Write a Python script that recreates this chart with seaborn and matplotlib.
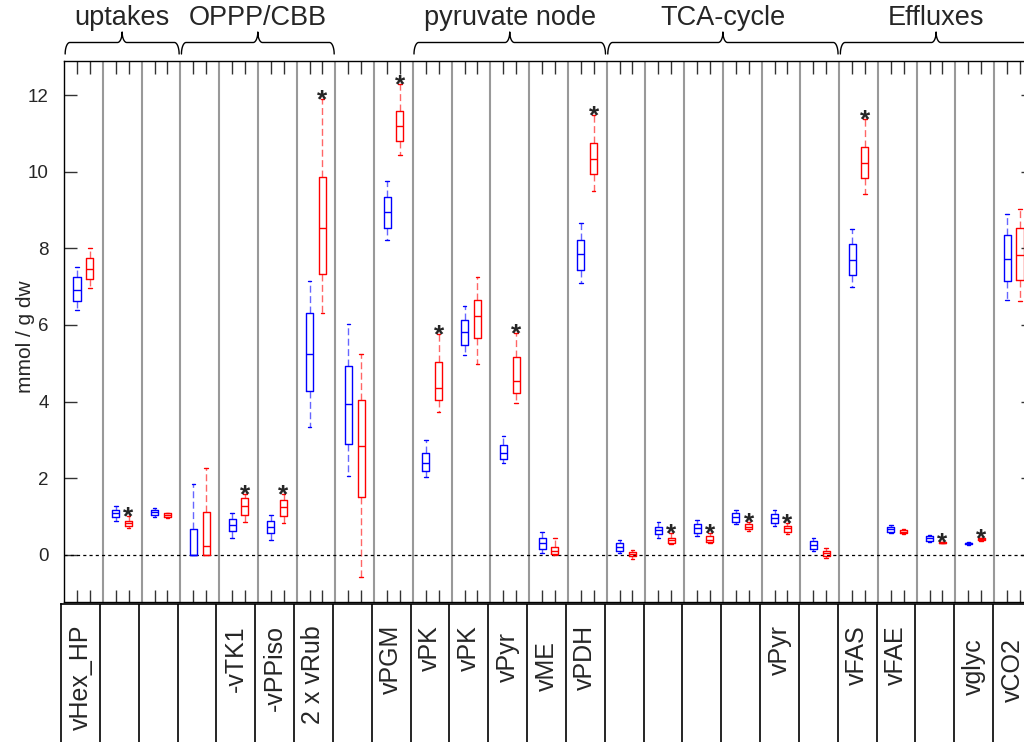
import numpy as np
import pandas as pd
import matplotlib
matplotlib.use('Agg')
import matplotlib.pyplot as plt
import seaborn as sns

sns.set_style('ticks')
plt.rcParams['font.family'] = ['Liberation Sans', 'DejaVu Sans']

# flux labels in the table under the plot (blank cells stay blank)
flux_labels = ['vHex_HP', '', '', '', '-vTK1', '-vPPiso', '2 x vRub', '', 'vPGM',
               'vPK', 'vPK', 'vPyr', 'vME', 'vPDH', '', '', '', '', 'vPyr', '',
               'vFAS', 'vFAE', '', 'vglyc', 'vCO2']

# five-number summaries per flux: lower whisker, q1, median, q3, upper whisker
stats_blue = [
    [6.38, 6.63, 6.91, 7.24, 7.52],
    [0.89, 0.98, 1.08, 1.17, 1.27],
    [1.00, 1.04, 1.11, 1.17, 1.22],
    [0.00, 0.00, 0.00, 0.68, 1.84],
    [0.44, 0.62, 0.79, 0.93, 1.10],
    [0.39, 0.57, 0.74, 0.89, 1.04],
    [3.33, 4.28, 5.25, 6.30, 7.16],
    [2.07, 2.90, 3.94, 4.93, 6.02],
    [8.21, 8.52, 8.96, 9.33, 9.77],
    [2.02, 2.18, 2.41, 2.67, 2.99],
    [5.21, 5.47, 5.81, 6.12, 6.50],
    [2.40, 2.50, 2.67, 2.86, 3.09],
    [0.05, 0.15, 0.30, 0.45, 0.60],
    [7.10, 7.44, 7.85, 8.23, 8.65],
    [0.04, 0.09, 0.20, 0.30, 0.39],
    [0.45, 0.54, 0.64, 0.74, 0.87],
    [0.50, 0.58, 0.69, 0.80, 0.91],
    [0.80, 0.87, 1.00, 1.10, 1.17],
    [0.76, 0.84, 0.96, 1.07, 1.17],
    [0.10, 0.16, 0.26, 0.35, 0.43],
    [7.00, 7.31, 7.70, 8.11, 8.50],
    [0.57, 0.61, 0.68, 0.74, 0.78],
    [0.33, 0.37, 0.43, 0.48, 0.52],
    [0.26, 0.28, 0.30, 0.32, 0.34],
    [6.65, 7.14, 7.73, 8.34, 8.90],
]
stats_red = [
    [6.97, 7.19, 7.47, 7.74, 8.00],
    [0.69, 0.75, 0.83, 0.88, 1.01],
    [0.97, 0.98, 1.03, 1.08, 1.10],
    [0.00, 0.00, 0.23, 1.13, 2.28],
    [0.85, 1.04, 1.28, 1.48, 1.60],
    [0.82, 1.01, 1.26, 1.43, 1.58],
    [6.31, 7.34, 8.52, 9.86, 11.89],
    [-0.57, 1.51, 2.84, 4.03, 5.24],
    [10.44, 10.80, 11.19, 11.59, 12.28],
    [3.73, 4.03, 4.35, 5.03, 5.76],
    [4.97, 5.67, 6.24, 6.66, 7.24],
    [3.97, 4.22, 4.54, 5.16, 5.80],
    [0.00, 0.02, 0.10, 0.20, 0.45],
    [9.50, 9.93, 10.34, 10.76, 11.49],
    [-0.10, -0.04, 0.03, 0.08, 0.13],
    [0.28, 0.31, 0.38, 0.45, 0.57],
    [0.30, 0.33, 0.40, 0.48, 0.58],
    [0.63, 0.67, 0.74, 0.81, 0.87],
    [0.55, 0.60, 0.69, 0.76, 0.84],
    [-0.09, -0.02, 0.04, 0.10, 0.17],
    [9.41, 9.83, 10.24, 10.65, 11.37],
    [0.54, 0.57, 0.61, 0.65, 0.67],
    [0.30, 0.31, 0.32, 0.33, 0.34],
    [0.37, 0.39, 0.41, 0.43, 0.45],
    [6.62, 7.17, 7.83, 8.52, 9.04],
]
# fluxes with a significant difference (star over the red box)
significant = [1, 4, 5, 6, 8, 9, 11, 13, 15, 16, 17, 18, 20, 22, 23]

# pathway groups: (name, first flux, last flux)
groups = [('uptakes', 0, 2), ('OPPP/CBB', 3, 6), ('pyruvate node', 9, 13),
          ('TCA-cycle', 14, 19), ('Effluxes', 20, 24)]

n = len(flux_labels)
rows = []
for i in range(n):
    for v in stats_blue[i]:
        rows.append((i, 'blue', v))
    for v in stats_red[i]:
        rows.append((i, 'red', v))
df = pd.DataFrame(rows, columns=['flux', 'cond', 'value'])

fig = plt.figure(figsize=(10.24, 7.42), dpi=100)
ax = fig.add_axes([64/1024, 140/742, 969/1024, 541/742])

# whis=(0, 100) -> whiskers run to min/max of each five-number set
sns.boxplot(data=df, x='flux', y='value', hue='cond', order=list(range(n)),
            hue_order=['blue', 'red'], palette={'blue': '#0000ff', 'red': '#ff0000'},
            saturation=1, fill=False, width=0.66, gap=0.45, whis=(0, 100),
            linewidth=1.0, legend=False, ax=ax,
            whiskerprops=dict(linestyle=(0, (5, 2.5)), alpha=0.6))

off = 0.165
for i in significant:
    ax.annotate('*', (i + off, stats_red[i][4]), xytext=(0, -6),
                textcoords='offset points', ha='center', va='baseline',
                fontsize=19, fontweight='bold')

for k in range(n - 1):
    ax.axvline(k + 0.5, color='#999999', lw=1.5, zorder=0.5)
ax.axhline(0, color='k', lw=0.9, ls=(0, (2.5, 2.5)), zorder=0.6)

ax.set_xlim(-0.5, n - 0.5)
ax.set_ylim(-1.23, 12.89)
ax.set_yticks(range(0, 13, 2))
box_pos = np.sort(np.concatenate([np.arange(n) - off, np.arange(n) + off]))
ax.set_xticks(box_pos)
ax.set_xticklabels([])
ax.tick_params(axis='x', direction='in', length=9, width=1, color='#333333',
               top=True, bottom=True)
ax.tick_params(axis='y', direction='in', length=9, width=1, color='#333333',
               right=True, labelsize=13.5, pad=11)
ax.set_xlabel('')
ax.set_ylabel('mmol / g dw', fontsize=15)
ax.yaxis.set_label_coords(-0.03, 0.49)
for s in ax.spines.values():
    s.set_visible(True)
    s.set_color('k')
    s.set_linewidth(1)


# curly braces above the groups
def fy(p):
    # pixel row from the top of the figure -> axes fraction
    return 1 + (61 - p) / 541


tr = ax.get_xaxis_transform()
y_low, y_mid, y_tip = fy(54), fy(42.5), fy(32)
rx = 0.12
t = np.linspace(0, np.pi / 2, 20)
for name, a, b in groups:
    x0, x1 = a - 0.5 + 0.03, b + 0.5 - 0.03
    xc = (x0 + x1) / 2
    left_x = np.concatenate([x0 + rx - rx * np.cos(t), xc - rx + rx * np.sin(t)])
    left_y = np.concatenate([y_low + (y_mid - y_low) * np.sin(t),
                             y_tip - (y_tip - y_mid) * np.cos(t)])
    right_x = 2 * xc - left_x[::-1]
    right_y = left_y[::-1]
    ax.plot(np.concatenate([left_x, right_x]), np.concatenate([left_y, right_y]),
            color='k', lw=1.0, transform=tr, clip_on=False)
    ax.text(xc, fy(25), name, ha='center', va='baseline', fontsize=19.5,
            transform=tr, clip_on=False)

# label table below the plot
tab = fig.add_axes([61/1024, -20/742, 971/1024, 158/742])
tab.set_xlim(-0.5, n - 0.5)
tab.set_ylim(0, 1)
tab.set_xticks([])
tab.set_yticks([])
for side in ['right', 'bottom']:
    tab.spines[side].set_visible(False)
for side in ['top', 'left']:
    tab.spines[side].set_color('k')
    tab.spines[side].set_linewidth(1.2)
for k in range(n):
    tab.axvline(k + 0.5, color='k', lw=1.2)
drop = {11: 7, 12: 16, 23: 13, 24: 13}  # a few labels sit a bit lower
for i, lab in enumerate(flux_labels):
    tab.text(i, 1 - (21 + drop.get(i, 0)) / 158, lab, rotation=90,
             ha='center', va='top', fontsize=18)

fig.savefig('out.png', dpi=100)
